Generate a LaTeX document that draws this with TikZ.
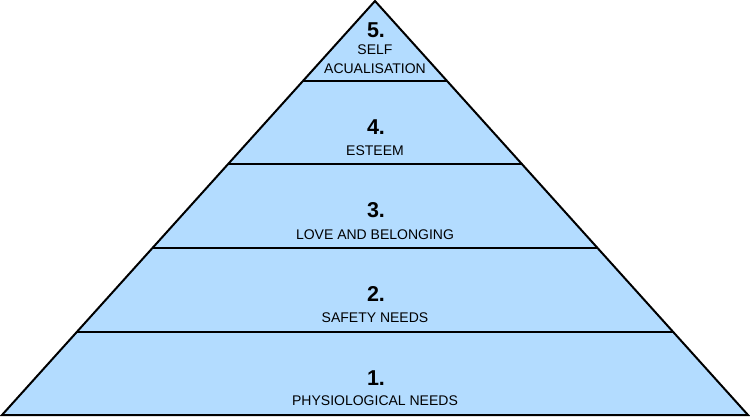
\documentclass[tikz,border=0pt]{standalone}
\usepackage{fontspec}
\setmainfont{Liberation Sans}
\definecolor{pyrfill}{HTML}{B3DCFF}
\begin{document}
\begin{tikzpicture}[x=1pt,y=-1pt,
  num/.style={font=\fontsize{21.5}{21.5}\selectfont\bfseries, inner sep=0pt, anchor=center},
  lab/.style={font=\fontsize{14}{19}\selectfont, inner sep=0pt, anchor=center, align=center},
  div/.style={line width=2pt}]
\useasboundingbox (0,0) rectangle (750,416);
\coordinate (apex) at (375,1);
\coordinate (bl) at (2,415);
\coordinate (br) at (748,415);
\fill[pyrfill] (apex) -- (bl) -- (br) -- cycle;
% dividers
\foreach \yy/\nm in {81/a,164/b,248/c,332/d}{
  \pgfmathsetmacro{\dx}{0.900966*(\yy-1)}
  \coordinate (\nm L) at ({375-\dx},\yy);
  \coordinate (\nm R) at ({375+\dx},\yy);
}
\draw[div] (aL) -- (aR);
\draw[div] (bL) -- (bR);
\draw[div] (cL) -- (cR);
\draw[div] (dL) -- (dR);
\draw[line width=2pt, line join=miter] (bl) -- (apex) -- (br) -- cycle;
% texts
\node[num] (n5) at (376,30) {5.};
\node[lab] (l5) at (375,59.5) {SELF\\ACUALISATION};
\node[num] (n4) at (376,127) {4.};
\node[lab] (l4) at (375,151) {ESTEEM};
\node[num] (n3) at (376,210) {3.};
\node[lab] (l3) at (375,235) {LOVE AND BELONGING};
\node[num] (n2) at (376,294) {2.};
\node[lab] (l2) at (375,318) {SAFETY NEEDS};
\node[num] (n1) at (376,378) {1.};
\node[lab] (l1) at (375,401) {PHYSIOLOGICAL NEEDS};
\end{tikzpicture}
\end{document}
